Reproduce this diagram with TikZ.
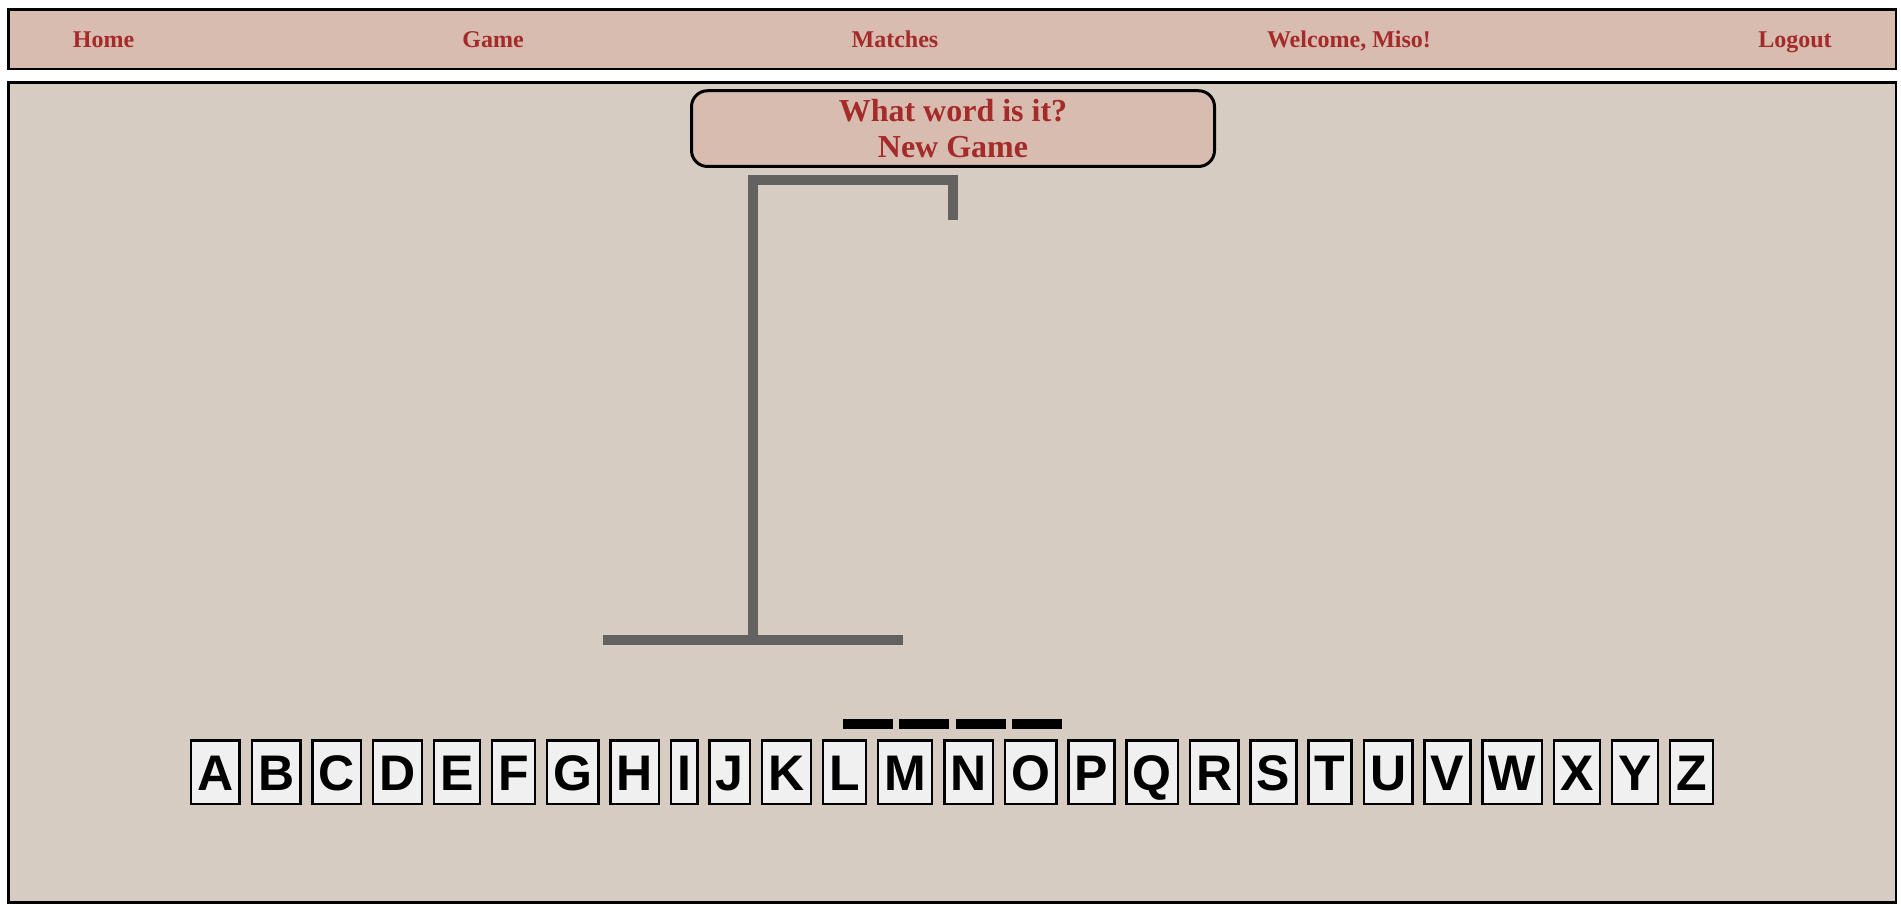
\documentclass[tikz,border=0pt]{standalone}
\usepackage{fontspec}
\setmainfont{Liberation Serif}
\newfontfamily\arialfont{Liberation Sans}
\usetikzlibrary{positioning}
\definecolor{navfill}{HTML}{D7BCAF}
\definecolor{panelfill}{HTML}{D6CCC2}
\definecolor{brickred}{HTML}{A52A2A}
\definecolor{keyfill}{HTML}{F0F0F0}
\definecolor{gallowsgray}{HTML}{636260}
\begin{document}
\begin{tikzpicture}[x=0.75pt,y=-0.75pt,
  navtext/.style={text=brickred, font=\fontsize{18}{21}\selectfont\bfseries, anchor=base, inner sep=0pt},
  titletext/.style={text=brickred, font=\fontsize{24}{28}\selectfont\bfseries, anchor=base, inner sep=0pt},
  frame/.style={draw=black, line width=1.875pt},
  keybox/.style={draw=black, line width=1.875pt, fill=keyfill,
    font=\arialfont\bfseries\fontsize{37.5}{40}\selectfont,
    inner xsep=4.69pt, inner ysep=0pt, minimum height=47.6pt,
    text height=27pt, text depth=0pt, anchor=west},
  beam/.style={draw=gallowsgray, line width=7.5pt},
  blank/.style={fill=black}
]
\useasboundingbox (0,0) rectangle (1901,904);
\fill[white] (0,0) rectangle (1901,904);
% navigation bar
\node[frame, fill=navfill, rectangle, minimum width=1415.6pt, minimum height=44.6pt, inner sep=0pt] (nav) at (952,39.25) {};
\node[navtext] (home) at (103.5,47.3) {Home};
\node[navtext] (game) at (493,47.3) {Game};
\node[navtext] (matches) at (895,47.3) {Matches};
\node[navtext] (welcome) at (1349,47.3) {Welcome, Miso!};
\node[navtext] (logout) at (1795,47.3) {Logout};
% main panel
\node[frame, fill=panelfill, rectangle, minimum width=1415.6pt, minimum height=615.2pt, inner sep=0pt] (panel) at (952,492.45) {};
% title box
\node[draw=black, line width=2.25pt, fill=navfill, rounded corners=12pt, minimum width=392.25pt, minimum height=56.8pt, inner sep=0pt] (titlebox) at (953,128.6) {};
\node[titletext] (question) at (953,121.5) {What word is it?};
\node[titletext] (newgame) at (953,157.5) {New Game};
% gallows
\draw[beam, line join=miter] (953,220) -- (953,180) -- (753,180) -- (753,640);
\draw[beam] (603,640) -- (903,640);
% word blanks
\fill[blank] (843,719) rectangle (893,729);
\fill[blank] (899.3,719) rectangle (949.3,729);
\fill[blank] (955.6,719) rectangle (1005.6,729);
\fill[blank] (1012,719) rectangle (1062,729);
% keyboard
\node[keybox] (kA) at (189.8,772.3) {A};
\foreach \l [remember=\l as \p (initially A)] in {B,C,D,E,F,G,H,I,J,K,L,M,N,O,P,Q,R,S,T,U,V,W,X,Y,Z}
  \node[keybox, right=7.2pt of k\p] (k\l) {\l};
\end{tikzpicture}
\end{document}
